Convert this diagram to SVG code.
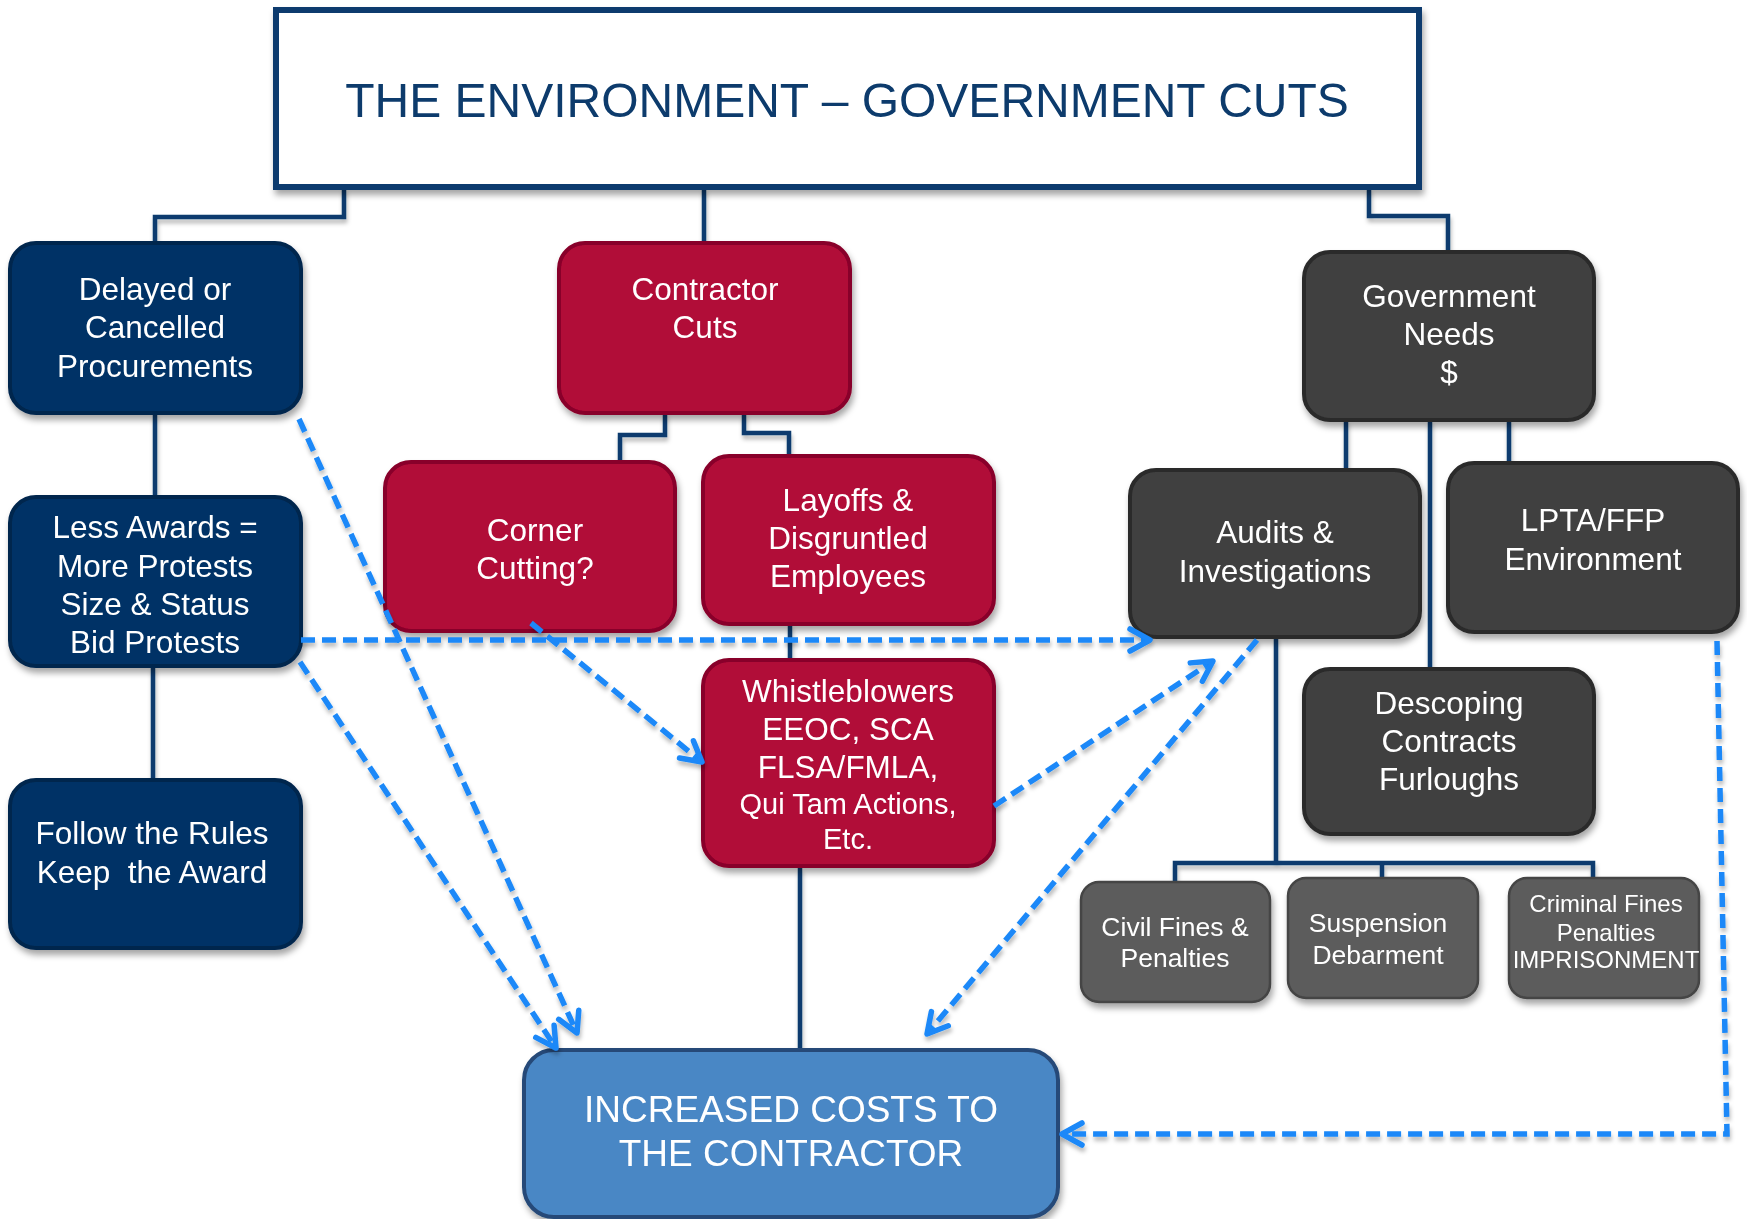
<svg xmlns="http://www.w3.org/2000/svg" width="1747" height="1219" viewBox="0 0 1747 1219">
<defs>
<filter id="sh" x="-10%" y="-10%" width="130%" height="140%">
<feDropShadow dx="2" dy="5" stdDeviation="3" flood-color="#000" flood-opacity="0.35"/>
</filter>
<filter id="shl" x="-10%" y="-10%" width="130%" height="140%">
<feDropShadow dx="1" dy="4" stdDeviation="2" flood-color="#000" flood-opacity="0.28"/>
</filter>
<marker id="ah" viewBox="-26 -15 30 30" refX="0" refY="0" markerWidth="30" markerHeight="30" orient="auto" markerUnits="userSpaceOnUse">
<path d="M-20,-11 L0,0 L-20,11" fill="none" stroke="#1a88f8" stroke-width="5.5" stroke-linecap="round" stroke-linejoin="round"/>
</marker>
<style>
text{font-family:"Liberation Sans",Arial,sans-serif;text-anchor:middle;fill:#fff;font-size:31.5px}
.navy{fill:#003366;stroke:#00264d;stroke-width:4}
.red{fill:#b10a38;stroke:#88002a;stroke-width:4}
.dark{fill:#404040;stroke:#2a2a2a;stroke-width:4}
.gray{fill:#5b5b5b;stroke:#444;stroke-width:2.5}
.blue{fill:#4a87c5;stroke:#254a78;stroke-width:4}
.conn{fill:none;stroke:#0b3a6e;stroke-width:4.5}
.dash{fill:none;stroke:#1a88f8;stroke-width:5.5;stroke-dasharray:14 7}
.sm{font-size:26.5px}
.xs{font-size:24px}
</style>
</defs>

<g id="connectors" filter="url(#shl)">
<path class="conn" d="M344,188 V217 H155 V243"/>
<path class="conn" d="M704,188 V243"/>
<path class="conn" d="M1369,188 V216 H1448 V252"/>
<path class="conn" d="M155,413 V497"/>
<path class="conn" d="M153,666 V780"/>
<path class="conn" d="M665,413 V435 H620 V462"/>
<path class="conn" d="M744,413 V433 H789 V456"/>
<path class="conn" d="M790,624 V660"/>
<path class="conn" d="M800,868 V1050"/>
<path class="conn" d="M1346,420 V470"/>
<path class="conn" d="M1430,420 V669"/>
<path class="conn" d="M1509,420 V463"/>
<path class="conn" d="M1276,637 V863"/>
<path class="conn" d="M1175,882 V863 H1593 V878"/>
<path class="conn" d="M1382,863 V878"/>
</g>

<g id="title" filter="url(#sh)">
<rect x="276" y="10" width="1143" height="177" fill="#fff" stroke="#0b3a6e" stroke-width="6"/>
<text x="847" y="117" style="font-size:48px;fill:#0a3a6c">THE ENVIRONMENT – GOVERNMENT CUTS</text>
</g>

<g id="delayed" filter="url(#sh)">
<rect class="navy" x="10" y="243" width="291" height="170" rx="26"/>
<text x="155" y="300">Delayed or</text>
<text x="155" y="338">Cancelled</text>
<text x="155" y="377">Procurements</text>
</g>

<g id="contractor" filter="url(#sh)">
<rect class="red" x="559" y="243" width="291" height="170" rx="26"/>
<text x="705" y="300">Contractor</text>
<text x="705" y="338">Cuts</text>
</g>

<g id="govneeds" filter="url(#sh)">
<rect class="dark" x="1304" y="252" width="290" height="168" rx="26"/>
<text x="1449" y="307">Government</text>
<text x="1449" y="345">Needs</text>
<text x="1449" y="383">$</text>
</g>

<g id="lessawards" filter="url(#sh)">
<rect class="navy" x="10" y="497" width="291" height="169" rx="26"/>
<text x="155" y="538">Less Awards =</text>
<text x="155" y="577">More Protests</text>
<text x="155" y="615">Size &amp; Status</text>
<text x="155" y="653">Bid Protests</text>
</g>

<g id="follow" filter="url(#sh)">
<rect class="navy" x="10" y="780" width="291" height="168" rx="26"/>
<text x="152" y="844">Follow the Rules</text>
<text x="152" y="883" xml:space="preserve">Keep  the Award</text>
</g>

<g id="corner" filter="url(#sh)">
<rect class="red" x="385" y="462" width="290" height="169" rx="26"/>
<text x="535" y="541">Corner</text>
<text x="535" y="579">Cutting?</text>
</g>

<g id="layoffs" filter="url(#sh)">
<rect class="red" x="703" y="456" width="291" height="168" rx="26"/>
<text x="848" y="511">Layoffs &amp;</text>
<text x="848" y="549">Disgruntled</text>
<text x="848" y="587">Employees</text>
</g>

<g id="whistle" filter="url(#sh)">
<rect class="red" x="703" y="660" width="291" height="206" rx="26"/>
<text x="848" y="702">Whistleblowers</text>
<text x="848" y="740">EEOC, SCA</text>
<text x="848" y="778">FLSA/FMLA,</text>
<text x="848" y="814" style="font-size:29px">Qui Tam Actions,</text>
<text x="848" y="849" style="font-size:29px">Etc.</text>
</g>

<g id="audits" filter="url(#sh)">
<rect class="dark" x="1130" y="470" width="290" height="167" rx="26"/>
<text x="1275" y="543">Audits &amp;</text>
<text x="1275" y="582">Investigations</text>
</g>

<g id="lpta" filter="url(#sh)">
<rect class="dark" x="1448" y="463" width="290" height="169" rx="26"/>
<text x="1593" y="531">LPTA/FFP</text>
<text x="1593" y="570">Environment</text>
</g>

<g id="descoping" filter="url(#sh)">
<rect class="dark" x="1304" y="669" width="290" height="165" rx="26"/>
<text x="1449" y="714">Descoping</text>
<text x="1449" y="752">Contracts</text>
<text x="1449" y="790">Furloughs</text>
</g>

<g id="civil" filter="url(#sh)">
<rect class="gray" x="1081" y="882" width="189" height="120" rx="18"/>
<text class="sm" x="1175" y="936">Civil Fines &amp;</text>
<text class="sm" x="1175" y="967">Penalties</text>
</g>

<g id="suspension" filter="url(#sh)">
<rect class="gray" x="1288" y="878" width="190" height="120" rx="18"/>
<text class="sm" x="1378" y="932">Suspension</text>
<text class="sm" x="1378" y="964">Debarment</text>
</g>

<g id="criminal" filter="url(#sh)">
<rect class="gray" x="1509" y="878" width="190" height="120" rx="18"/>
<text class="xs" x="1606" y="912">Criminal Fines</text>
<text class="xs" x="1606" y="941">Penalties</text>
<text class="xs" x="1606" y="968">IMPRISONMENT</text>
</g>

<g id="increased" filter="url(#sh)">
<rect class="blue" x="524" y="1050" width="534" height="167" rx="30"/>
<text x="791" y="1122" style="font-size:37px">INCREASED COSTS TO</text>
<text x="791" y="1166" style="font-size:37px">THE CONTRACTOR</text>
</g>

<g id="dashed-arrows" filter="url(#shl)">
<path class="dash" d="M299,419 L577,1033" marker-end="url(#ah)"/>
<path class="dash" d="M300,662 L556,1048" marker-end="url(#ah)"/>
<path class="dash" d="M301,640 L1150,640" marker-end="url(#ah)"/>
<path class="dash" d="M531,623 L702,762" marker-end="url(#ah)"/>
<path class="dash" d="M994,806 L1213,661" marker-end="url(#ah)"/>
<path class="dash" d="M1257,640 L927,1034" marker-end="url(#ah)"/>
<path class="dash" d="M1717,641 L1727,1134 L1062,1134" marker-end="url(#ah)"/>
</g>
</svg>
